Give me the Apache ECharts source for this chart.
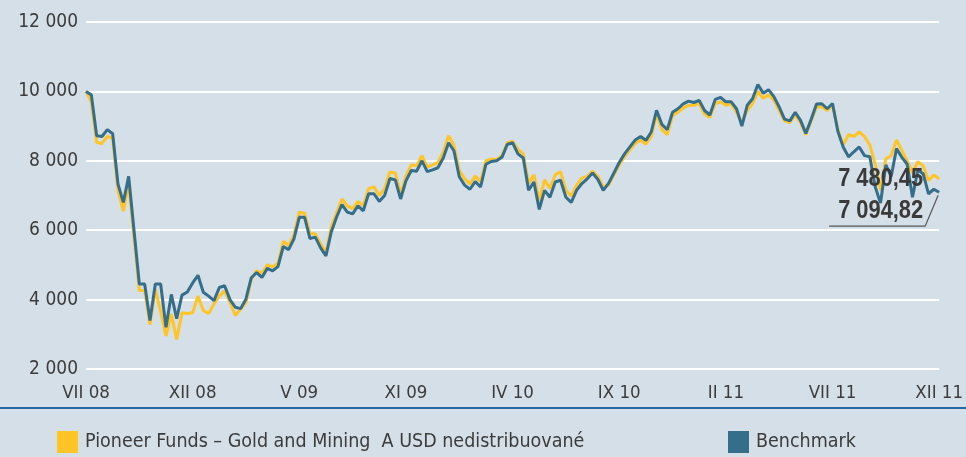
<!DOCTYPE html>
<html>
<head>
<meta charset="utf-8">
<script src="https://cdn.jsdelivr.net/npm/echarts@6/dist/echarts.min.js"></script>
<style>
  html, body { margin: 0; padding: 0; background: #d5dfe7; }
  #chart { width: 966px; height: 457px; }
</style>
</head>
<body>
<div id="chart"></div>
<script type="text/javascript">
// tick labels on the x axis, one every 20 points
var monthLabels = ['VII 08', 'XII 08', 'V 09', 'XI 09', 'IV 10', 'IX 10', 'II 11', 'VII 11', 'XII 11'];
var labelStep = 20;

var fundName = 'Pioneer Funds – Gold and Mining  A USD nedistribuované';
var benchName = 'Benchmark';

// fund (yellow)
var fundValues = [
  10000, 9700, 8530, 8500, 8700, 8650, 7140, 6550, 7380, 5800,
  4260, 4260, 3280, 4300, 3650, 2950, 3580, 2850, 3620, 3600,
  3620, 4100, 3680, 3600, 3875, 4100, 4250, 3920, 3540, 3720,
  3920, 4580, 4830, 4760, 5000, 4950, 5050, 5680, 5560, 5870,
  6520, 6490, 5900, 5900, 5600, 5350, 6100, 6500, 6900, 6700,
  6620, 6830, 6700, 7200, 7250, 7000, 7200, 7680, 7650, 7030,
  7560, 7880, 7860, 8150, 7820, 7880, 7950, 8250, 8720, 8450,
  7720, 7480, 7330, 7560, 7400, 8000, 8050, 8030, 8150, 8520,
  8560, 8330, 8200, 7350, 7600, 6850, 7450, 7200, 7600, 7680,
  7150, 6980, 7300, 7500, 7550, 7700, 7550, 7250, 7300, 7600,
  7880, 8120, 8320, 8500, 8600, 8480, 8700, 9350, 8900, 8750,
  9300, 9400, 9520, 9600, 9600, 9650, 9350, 9250, 9650, 9700,
  9600, 9650, 9400, 9100, 9450, 9650, 10000, 9800, 9900, 9750,
  9450, 9150, 9100, 9330, 9100, 8750, 9150, 9550, 9560, 9450,
  9600, 8900, 8450, 8750, 8700, 8830, 8700, 8450, 7900, 7150,
  8050, 8150, 8600, 8300, 8000, 7650, 7975, 7850, 7430, 7590,
  7480.45
];

// benchmark (teal)
var benchValues = [
  10000, 9900, 8720, 8700, 8900, 8780, 7330, 6800, 7550, 6000,
  4450, 4450, 3400, 4450, 4450, 3200, 4150, 3450, 4130, 4220,
  4480, 4700, 4210, 4100, 3970, 4350, 4400, 4000, 3780, 3740,
  4020, 4630, 4780, 4640, 4900, 4830, 4950, 5530, 5440, 5750,
  6370, 6370, 5760, 5800, 5490, 5260, 5950, 6380, 6740, 6520,
  6470, 6700, 6560, 7050, 7050, 6830, 7000, 7490, 7450, 6900,
  7420, 7720, 7700, 8000, 7690, 7740, 7800, 8080, 8520, 8290,
  7540, 7300, 7180, 7400, 7245, 7900, 7980, 8000, 8100, 8470,
  8520, 8200, 8080, 7150, 7390, 6600, 7150, 6950, 7390, 7440,
  6950, 6800, 7150, 7345, 7480, 7650, 7460, 7150, 7350, 7650,
  7950, 8200, 8400, 8600, 8700, 8590, 8830, 9455, 9050, 8900,
  9400, 9500, 9640, 9720, 9680, 9740, 9450, 9320, 9770, 9830,
  9700, 9700, 9500, 9000, 9600, 9790, 10200, 9950, 10050, 9850,
  9550, 9200, 9150, 9400, 9165, 8790, 9200, 9640, 9645, 9500,
  9650, 8850, 8400, 8115, 8260, 8400, 8150, 8115, 7250, 6780,
  7880, 7550, 8350, 8100, 7900, 6950, 7735, 7630, 7050, 7180,
  7094.82
];

var categories = [];
for (var i = 0; i < benchValues.length; i++) {
  categories.push(i);
}

var fontFamily = '"DejaVu Sans Condensed", sans-serif';
var textColor = '#3c3c3c';

// 12000 -> "12 000", 7480.45 -> "7 480,45"
function fmt(v, dec) {
  var s = v.toFixed(dec).split('.');
  var n = s[0].replace(/\B(?=(\d{3})+(?!\d))/g, ' ');
  return s.length > 1 ? n + ',' + s[1] : n;
}

var myChart = echarts.init(document.getElementById('chart'), null, {renderer: 'canvas'});
var option = {
  backgroundColor: '#d5dfe7',
  animation: false,
  textStyle: { fontFamily: fontFamily },
  grid: { left: 86, right: 21, top: 22, bottom: 88, containLabel: false },
  legend: [
    {
      data: [fundName], left: 57, top: 431, padding: 0,
      icon: 'rect', itemWidth: 21, itemHeight: 22,
      textStyle: { fontSize: 19.5, color: textColor, fontFamily: fontFamily, padding: [0, 0, 0, 2] }
    },
    {
      data: [benchName], left: 728, top: 431, padding: 0,
      icon: 'rect', itemWidth: 21, itemHeight: 22,
      textStyle: { fontSize: 19.5, color: textColor, fontFamily: fontFamily, padding: [0, 0, 0, 2] }
    }
  ],
  xAxis: {
    type: 'category',
    data: categories,
    boundaryGap: false,
    axisLine: { show: false },
    axisTick: { show: false },
    splitLine: { show: false },
    axisLabel: {
      interval: labelStep - 1,
      margin: 15,
      fontSize: 18.5,
      color: textColor,
      fontFamily: fontFamily,
      formatter: function (val, idx) {
        return idx % labelStep === 0 ? monthLabels[idx / labelStep] : '';
      }
    }
  },
  yAxis: {
    type: 'value',
    min: 2000,
    max: 12000,
    interval: 2000,
    axisLine: { show: false },
    axisTick: { show: false },
    splitLine: { lineStyle: { color: '#ffffff', width: 2 } },
    axisLabel: {
      margin: 8,
      fontSize: 19,
      color: textColor,
      fontFamily: fontFamily,
      formatter: function (v) { return fmt(v, 0); }
    }
  },
  series: [
    {
      name: fundName,
      type: 'line',
      data: fundValues,
      showSymbol: false,
      color: '#ffc425',
      lineStyle: { width: 3, color: '#ffc425' },
      z: 2
    },
    {
      name: benchName,
      type: 'line',
      data: benchValues,
      showSymbol: false,
      color: '#356e8a',
      lineStyle: { width: 3, color: '#356e8a' },
      z: 3
    }
  ]
};
myChart.setOption(option);

// end-value labels and leader line, placed from the last data points
var last = benchValues.length - 1;
var pF = myChart.convertToPixel({gridIndex: 0}, [last, fundValues[last]]);
var pB = myChart.convertToPixel({gridIndex: 0}, [last, benchValues[last]]);
var labelFont = 'bold 26px "Liberation Sans", Arial, sans-serif';

myChart.setOption({
  graphic: [
    {
      type: 'line', silent: true,
      shape: { x1: 0, y1: 408, x2: 966, y2: 408 },
      style: { stroke: '#2467a3', lineWidth: 2 }
    },
    {
      type: 'text', z: 100,
      x: pF[0] - 16, y: pF[1], scaleX: 0.84,
      style: { text: fmt(fundValues[last], 2), font: labelFont, fill: '#3a3a3a', align: 'right', verticalAlign: 'middle' }
    },
    {
      type: 'text', z: 100,
      x: pB[0] - 16, y: pB[1] + 19, scaleX: 0.84,
      style: { text: fmt(benchValues[last], 2), font: labelFont, fill: '#3a3a3a', align: 'right', verticalAlign: 'middle' }
    },
    {
      type: 'polyline', z: 100, silent: true,
      shape: { points: [[pB[0] - 110, pB[1] + 34], [pB[0] - 14, pB[1] + 34], [pB[0] - 1, pB[1] + 3]] },
      style: { stroke: '#555555', lineWidth: 1.2, fill: null }
    }
  ]
});
</script>
</body>
</html>
